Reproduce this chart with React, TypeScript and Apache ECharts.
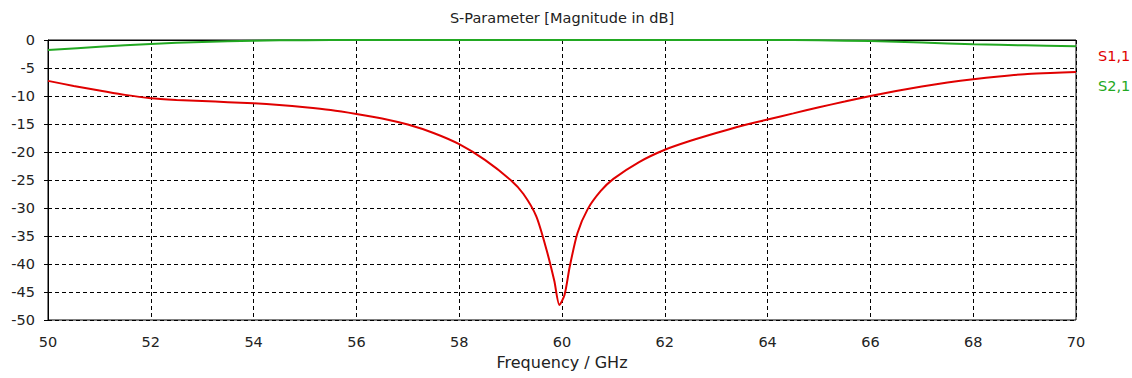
import React, { useEffect, useRef } from "react";
import * as echarts from "echarts";

const titleText = "S-Parameter [Magnitude in dB]";
const xAxisName = "Frequency / GHz";
const seriesNames = ["S1,1", "S2,1"];

const freqS11 = [
  50, 50.5, 51, 51.5, 52, 52.5, 53, 53.5, 54, 54.5, 55, 55.5, 56, 56.5, 57, 57.5, 58, 58.5, 59, 59.25,
  59.5, 59.7, 59.85, 59.95, 60.05, 60.15, 60.3, 60.5, 60.75, 61, 61.5, 62, 62.5, 63, 63.5, 64, 64.5, 65,
  65.5, 66, 66.5, 67, 67.5, 68, 68.5, 69, 69.5, 70,
];
const s11 = [
  -7.3, -8.2, -9.0, -9.8, -10.4, -10.7, -10.9, -11.1, -11.3, -11.6, -12.0, -12.5, -13.2, -14.0, -15.1,
  -16.6, -18.6, -21.4, -25.0, -27.5, -31.5, -37.5, -43.0, -47.3, -45.5, -40.5, -34.5, -30.2, -27.0,
  -24.8, -21.8, -19.6, -18.0, -16.6, -15.3, -14.2, -13.1, -12.0, -11.0, -10.0, -9.1, -8.3, -7.6, -7.0,
  -6.5, -6.1, -5.9, -5.7,
];

const freqS21 = [50, 51, 52, 53, 54, 55, 56, 58, 60, 62, 64, 65, 66, 67, 68, 69, 70];
const s21 = [-1.8, -1.2, -0.7, -0.35, -0.12, -0.03, -0.01, 0, 0, 0, -0.01, -0.05, -0.2, -0.45, -0.75, -0.95, -1.1];

const FONT = "DejaVu Sans";
const RED = "#e00000";
const GREEN = "#22a822";

export default function App() {
  const ref = useRef<HTMLDivElement>(null);
  useEffect(() => {
    if (!ref.current) return;
    const chart = echarts.init(ref.current, null, { renderer: "svg" });
    chart.setOption({
      animation: false,
      backgroundColor: "#ffffff",
      textStyle: { fontFamily: FONT },
      title: {
        text: titleText,
        left: 562,
        textAlign: "center",
        top: 10,
        padding: 0,
        textStyle: { fontFamily: FONT, fontSize: 14.5, fontWeight: "normal", color: "#222" },
      },
      legend: {
        orient: "vertical",
        left: 1093,
        top: 48,
        padding: 0,
        icon: "none",
        itemWidth: 0,
        itemHeight: 16,
        itemGap: 14,
        selectedMode: false,
        data: [
          { name: seriesNames[0], textStyle: { color: RED } },
          { name: seriesNames[1], textStyle: { color: GREEN } },
        ],
        textStyle: { fontFamily: FONT, fontSize: 14.5, padding: 0 },
      },
      grid: {
        left: 48,
        right: 56,
        top: 40,
        bottom: 58,
        outerBoundsMode: "none",
        containLabel: false,
        show: true,
        borderColor: "#000",
        borderWidth: 1,
        backgroundColor: "transparent",
      },
      xAxis: {
        type: "value",
        min: 50,
        max: 70,
        interval: 2,
        name: xAxisName,
        nameLocation: "middle",
        nameGap: 34,
        nameTextStyle: { fontFamily: FONT, fontSize: 16, color: "#222" },
        axisLine: { show: true, lineStyle: { color: "#000", width: 1 } },
        axisTick: { show: true, length: 4, lineStyle: { color: "#000" } },
        axisLabel: { fontFamily: FONT, fontSize: 14.5, color: "#222", margin: 14 },
        splitLine: { show: true, lineStyle: { color: "#000", type: [4, 3], width: 1 } },
      },
      yAxis: {
        type: "value",
        min: -50,
        max: 0,
        interval: 5,
        axisLine: { show: true, lineStyle: { color: "#000", width: 1 } },
        axisTick: { show: true, length: 4, lineStyle: { color: "#000" } },
        axisLabel: { fontFamily: FONT, fontSize: 14.5, color: "#222", margin: 13 },
        splitLine: { show: true, lineStyle: { color: "#000", type: [4, 3], width: 1 } },
      },
      series: [
        {
          name: seriesNames[0],
          type: "line",
          showSymbol: false,
          smooth: 0.25,
          lineStyle: { color: RED, width: 2 },
          itemStyle: { color: RED },
          data: freqS11.map((f, i) => [f, s11[i]]),
        },
        {
          name: seriesNames[1],
          type: "line",
          showSymbol: false,
          smooth: 0.3,
          clip: false,
          lineStyle: { color: GREEN, width: 2 },
          itemStyle: { color: GREEN },
          data: freqS21.map((f, i) => [f, s21[i]]),
        },
      ],
    });
    return () => chart.dispose();
  }, []);
  return (
    <div
      ref={ref}
      style={{ position: "fixed", left: 0, top: 0, width: 1132, height: 378 }}
    />
  );
}
